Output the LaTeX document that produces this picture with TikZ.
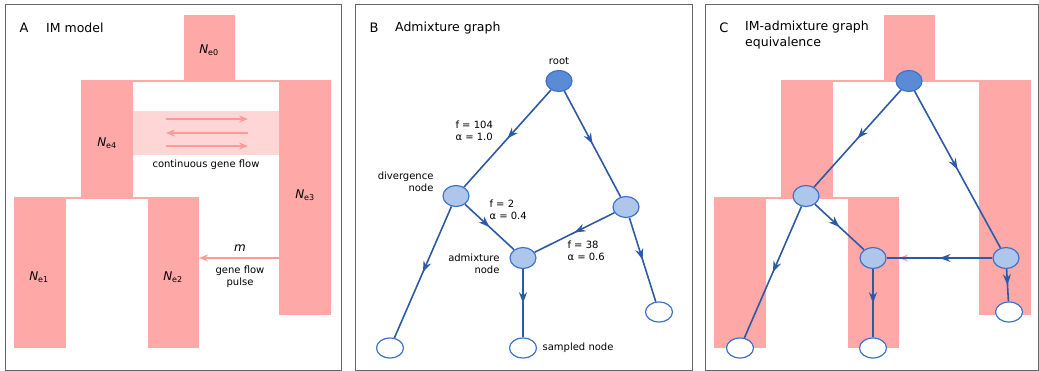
\documentclass[tikz,border=0pt]{standalone}
\usepackage{fontspec}
\setmainfont{DejaVu Sans}
\usetikzlibrary{arrows.meta,positioning,shapes.geometric,decorations.markings}
\definecolor{PopPink}{HTML}{FFA8A8}
\definecolor{BandPink}{HTML}{FFD6D6}
\definecolor{FlowPink}{HTML}{FF9A9A}
\definecolor{RootBlue}{HTML}{5C8BD6}
\definecolor{NodeBlue}{HTML}{AEC6EA}
\definecolor{RimBlue}{HTML}{3D72CC}
\definecolor{EdgeBlue}{HTML}{2C5AA6}
\definecolor{FrameGray}{HTML}{666666}
\newcommand{\Ne}[1]{\textit{N}\textsubscript{e#1}}

\begin{document}
\begin{tikzpicture}[
  x=1pt,y=-1pt,
  font=\fontsize{10}{12}\selectfont,
  frame/.style={draw=FrameGray,line width=0.8pt},
  pop/.style={fill=PopPink},
  flow/.style={draw=FlowPink,line width=1.8pt,-{Stealth[length=9pt,width=7pt]}},
  nelbl/.style={font=\fontsize{12}{14}\selectfont},
  title/.style={font=\fontsize{12.5}{16}\selectfont,inner sep=0pt},
  panel/.style={font=\fontsize{13}{16}\selectfont,inner sep=0pt},
  gnode/.style={ellipse,draw=RimBlue,line width=1.2pt,fill=NodeBlue,
    minimum width=26pt,minimum height=21pt,inner sep=0pt},
  rootnode/.style={gnode,fill=RootBlue},
  leaf/.style={gnode,fill=white,minimum width=27pt,minimum height=20pt},
  midarrow/.style={postaction={decorate},decoration={markings,
    mark=at position 0.5 with {\arrow{Stealth[length=11pt,width=8pt]}}}},
  link/.style={color=EdgeBlue,line width=1.6pt,midarrow}
]
  \useasboundingbox (0,0) rectangle (1039,371);

  % panel frames
  \draw[frame] (5,4) rectangle (341,370);
  \draw[frame] (355,4) rectangle (692,370);
  \draw[frame] (705,4) rectangle (1038,370);

  % population blocks (A and C)
  \foreach \dx in {0,700}{
    \begin{scope}[xshift=\dx]
      \fill[pop] (184,15) rectangle (235,82);
      \fill[pop] (81,80) rectangle (331,82);
      \fill[pop] (81,80) rectangle (133,197);
      \fill[pop] (279,80) rectangle (331,315);
      \fill[pop] (14,197) rectangle (199,199);
      \fill[pop] (14,197) rectangle (66,348);
      \fill[pop] (148,197) rectangle (199,348);
      \draw[flow] (279,258) -- (199,258);
    \end{scope}
  }

  % A: IM model
  \node[panel] (tagA) at (24,28) {A};
  \node[title,anchor=west] (titleA) at (46,28) {IM model};
  \fill[BandPink] (133,111) rectangle (279,155);
  \draw[flow] (166,119) -- (248,119);
  \draw[flow] (248,133) -- (166,133);
  \draw[flow] (166,146) -- (248,146);
  \node (contflow) at (206,165) {continuous gene flow};
  \node[nelbl] (ne0) at (209,50) {\Ne0};
  \node[nelbl] (ne4) at (107,143) {\Ne4};
  \node[nelbl] (ne3) at (305,195) {\Ne3};
  \node[nelbl] (ne1) at (39,277) {\Ne1};
  \node[nelbl] (ne2) at (173,277) {\Ne2};
  \node[nelbl] (mrate) at (240,248) {\textit{m}};
  \node[align=center] (pulse) at (240,277) {gene flow\\pulse};

  % B: admixture graph
  \node[panel] (tagB) at (374,28) {B};
  \node[title,anchor=west] (titleB) at (395,28) {Admixture graph};
  \node[rootnode] (rootB) at (559,81) {};
  \node[gnode] (divB) at (456,196) {};
  \node[gnode] (rgtB) at (626,207) {};
  \node[gnode] (admB) at (523,258) {};
  \node[leaf] (lflB) at (390,348) {};
  \node[leaf] (lfmB) at (523,348) {};
  \node[leaf] (lfrB) at (659,312) {};

  \node[above=2pt of rootB] {root};
  \node[align=right,anchor=east] at (437,182) {divergence\\node};
  \node[align=right,anchor=east] at (503,264) {admixture\\node};
  \node[right=2pt of lfmB] {sampled node};
  \node[align=left,anchor=west] at (452,131) {f = 104\\α = 1.0};
  \node[align=left,anchor=west] at (486,210) {f = 2\\α = 0.4};
  \node[align=left,anchor=west] at (564,251) {f = 38\\α = 0.6};

  \draw[link] (rootB) -- (divB);
  \draw[link] (rootB) -- (rgtB);
  \draw[link] (divB) -- (lflB);
  \draw[link] (divB) -- (admB);
  \draw[link] (rgtB) -- (admB);
  \draw[link] (admB) -- (lfmB);
  \draw[link] (rgtB) -- (lfrB);

  % C: IM-admixture graph equivalence
  \node[panel] (tagC) at (724,28) {C};
  \node[title,anchor=north west,align=left] (titleC) at (745,21) {IM-admixture graph\\equivalence};
  \node[rootnode] (rootC) at (909,81) {};
  \node[gnode] (divC) at (806,196) {};
  \node[gnode] (rgtC) at (1006,258) {};
  \node[gnode] (admC) at (873,258) {};
  \node[leaf] (lflC) at (740,348) {};
  \node[leaf] (lfmC) at (873,348) {};
  \node[leaf] (lfrC) at (1009,312) {};

  \draw[link] (rootC) -- (divC);
  \draw[link] (rootC) -- (rgtC);
  \draw[link] (divC) -- (lflC);
  \draw[link] (divC) -- (admC);
  \draw[link] (rgtC) -- (admC);
  \draw[link] (admC) -- (lfmC);
  \draw[link] (rgtC) -- (lfrC);
\end{tikzpicture}
\end{document}
